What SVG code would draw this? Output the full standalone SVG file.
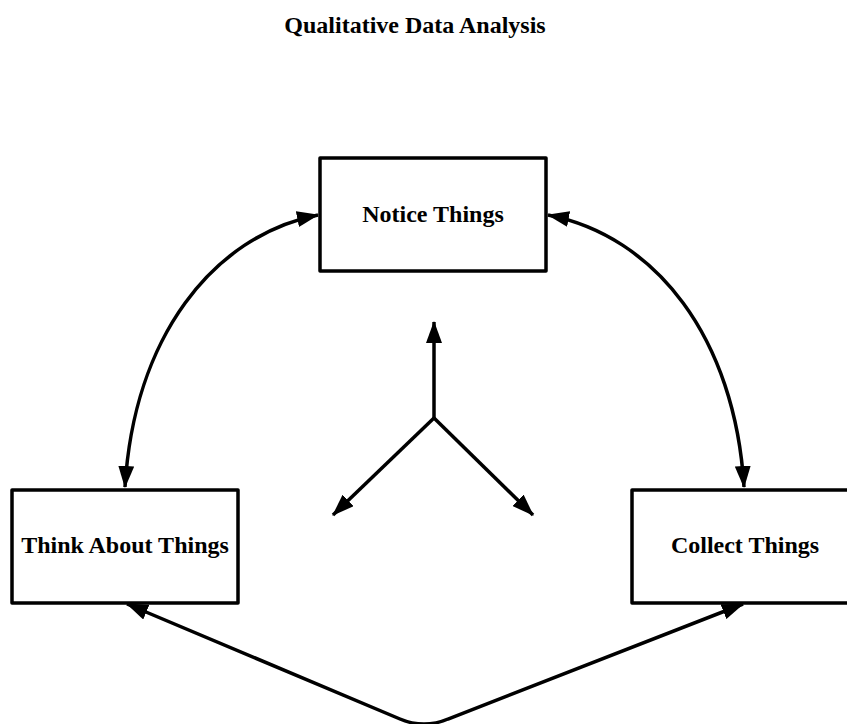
<svg xmlns="http://www.w3.org/2000/svg" width="847" height="724" viewBox="0 0 847 724">
  <style>
    .box { fill: #ffffff; stroke: #000000; stroke-width: 3.5; stroke-linejoin: round; }
    .lbl { font-family: "Liberation Serif", "Times New Roman", serif; font-weight: bold; font-size: 24px; fill: #000000; text-anchor: middle; }
    .edge { fill: none; stroke: #000000; stroke-width: 3.5; }
  </style>
  <defs>
    <marker id="ah" viewBox="0 0 22 16" refX="21" refY="8" markerWidth="22" markerHeight="16" markerUnits="userSpaceOnUse" orient="auto-start-reverse">
      <path d="M0,0 L22,8 L0,16 Z" fill="#000000"/>
    </marker>
  </defs>
  <rect width="847" height="724" fill="#ffffff"/>
  <text class="lbl" x="415" y="33">Qualitative Data Analysis</text>

  <g id="connectors">
    <path class="edge" d="M318,215 C212,236 134,338 125,487" marker-start="url(#ah)" marker-end="url(#ah)"/>
    <path class="edge" d="M548,215 C656,236 735,338 744,487" marker-start="url(#ah)" marker-end="url(#ah)"/>
    <path class="edge" d="M127,604 L400,719 Q424,729 448,719 L743,604" marker-start="url(#ah)" marker-end="url(#ah)"/>
    <path class="edge" d="M434,418 L434,322" marker-end="url(#ah)"/>
    <path class="edge" d="M434,418 L333,515" marker-end="url(#ah)"/>
    <path class="edge" d="M434,418 L533,515" marker-end="url(#ah)"/>
  </g>

  <g id="notice">
    <rect class="box" x="320" y="158" width="226" height="113"/>
    <text class="lbl" x="433" y="222">Notice Things</text>
  </g>
  <g id="think">
    <rect class="box" x="12" y="490" width="226" height="113"/>
    <text class="lbl" x="125" y="553">Think About Things</text>
  </g>
  <g id="collect">
    <rect class="box" x="632" y="490" width="226" height="113"/>
    <text class="lbl" x="745" y="553">Collect Things</text>
  </g>
</svg>
